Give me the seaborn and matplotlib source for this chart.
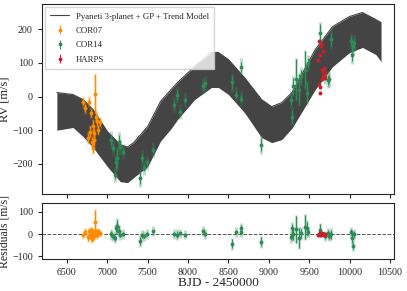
import numpy as np
import pandas as pd
import seaborn as sns
import matplotlib
matplotlib.use("Agg")
import matplotlib.pyplot as plt

# Огибающая модели (верх/низ тёмной полосы)
t_model = [6375, 6575, 6700, 6825, 7000, 7160, 7250, 7325, 7500, 7660, 7790, 7870,
           8080, 8290, 8375, 8500, 8700, 8910, 9035, 9160, 9290, 9575, 9790, 10000,
           10160, 10325, 10390]
model_up = [12, 6, -9, -39, -104, -143, -150, -137, -89, -14, 21, 42,
            89, 131, 131, 110, 56, -9, -30, -18, 13, 140, 208, 238,
            250, 229, 220]
model_lo = [-100, -92, -119, -152, -208, -253, -256, -241, -208, -132, -95, -68,
            -9, 27, 27, 6, -48, -122, -137, -128, -93, 21, 89, 131,
            146, 125, 104]

# COR07
t07 = [6700, 6725, 6760, 6775, 6790, 6800, 6810, 6820, 6825, 6830, 6840, 6850, 6860, 6875, 6890, 6910]
rv07 = [-15, -35, -122, -15, -104, -48, -134, -152, -89, -107, -128, 9, -60, -74, -98, -77]
err07 = [10, 12, 15, 10, 15, 12, 15, 15, 20, 12, 15, 57, 15, 15, 12, 12]
res07 = [-5, 10, -15, 15, -8, 18, -20, -12, 5, -10, 2, 53, 8, -3, 12, 3]
jit07 = 12

# COR14
t14 = [7040, 7075, 7090, 7110, 7125, 7140, 7160, 7200, 7410, 7425, 7450, 7490, 7560,
       7820, 7860, 7900, 7960, 8190, 8215, 8550, 8590, 8650, 8660, 8900,
       9275, 9290, 9300, 9340, 9375, 9400, 9450, 9475, 9480, 9640, 9700, 9730, 9750, 9775,
       10015, 10025, 10040, 10050]
rv14 = [-128, -152, -232, -196, -182, -134, -150, -164, -241, -182, -211, -196, -158,
        -24, 6, -45, -9, 30, 39, 42, 6, 89, -6, -143,
        -9, -60, 30, 51, 21, 60, 80, 12, 100, 190, 60, 50, 51, 170,
        164, 125, 149, 160]
err14 = [15, 10, 12, 15, 30, 20, 10, 10, 20, 12, 10, 10, 8,
         10, 15, 8, 8, 10, 8, 20, 10, 15, 10, 20,
         15, 20, 25, 60, 45, 20, 55, 30, 15, 25, 12, 15, 12, 20,
         15, 20, 15, 12]
res14 = [0, -10, -18, 26, 35, 15, -5, 0, -31, -5, -8, 0, 13,
         0, -2, 3, -2, 13, 0, -44, 9, 26, 9, -35,
         -13, 26, 0, 22, -18, 4, 31, 26, 9, 20, -9, 4, -9, 0,
         9, -18, -53, 0]
jit14 = 20

# HARPS
tH = [9612, 9620, 9625, 9630, 9635, 9640, 9645, 9650, 9655, 9660, 9665, 9670, 9675, 9680, 9690, 9700]
rvH = [110, 36, 164, 12, 125, 27, 149, 155, 80, 51, 74, 134, 60, 86, 56, 71]
errH = [3, 3, 3, 3, 3, 3, 3, 3, 3, 3, 3, 3, 3, 3, 3, 3]
resH = [-3, 2, 0, -4, 3, -1, 4, -2, 1, 3, -3, 0, 2, -1, 1, -2]
jitH = 4

sns.set_style("ticks")
plt.rcParams['font.family'] = ['Liberation Serif', 'DejaVu Serif']

fig = plt.figure(figsize=(4.07, 2.91), dpi=100)
ax = fig.add_axes([0.103, 0.333, 0.865, 0.653])
axr = fig.add_axes([0.103, 0.110, 0.865, 0.192])

dm = pd.DataFrame({'t': t_model, 'up': model_up, 'lo': model_lo})
ax.fill_between(t_model, model_up, model_lo, color='#444444', lw=0, zorder=2)
sns.lineplot(data=dm, x='t', y='up', ax=ax, color='#444444', lw=0.8, zorder=2,
             label='Pyaneti 3-planet + GP + Trend Model')

sets = [
    ('COR07', t07, rv07, err07, res07, jit07, '#ff8c00'),
    ('COR14', t14, rv14, err14, res14, jit14, '#2e8b57'),
    ('HARPS', tH, rvH, errH, resH, jitH, '#c8202a'),
]
for name, t, rv, e, res, jit, col in sets:
    e = np.array(e, dtype=float)
    etot = np.sqrt(e ** 2 + jit ** 2)
    for a, y in ((ax, rv), (axr, res)):
        a.errorbar(t, y, yerr=etot, fmt='none', ecolor=col, alpha=0.3, elinewidth=2.2, zorder=3)
        a.errorbar(t, y, yerr=e, fmt='o', color=col, ms=1.8, elinewidth=0.7, zorder=4,
                   label=name if a is ax else None)

ax.set_xlim(6190, 10550)
ax.set_ylim(-290, 275)
axr.set_xlim(6190, 10550)
axr.set_ylim(-112, 140)
axr.axhline(0, color='#555555', ls='--', lw=0.7, zorder=2)

ax.set_yticks([-200, -100, 0, 100, 200])
axr.set_yticks([-100, 0, 100])
for a in (ax, axr):
    a.set_xticks(np.arange(6500, 10501, 500))
    a.tick_params(labelsize=7.2, length=3, width=0.8)
    for s in a.spines.values():
        s.set_linewidth(0.8)
ax.set_xticklabels([])
ax.set_xlabel('')
ax.set_ylabel('RV [m/s]', fontsize=9, labelpad=1)
axr.set_ylabel('Residuals [m/s]', fontsize=8.5, labelpad=1)
axr.set_xlabel('BJD - 2450000', fontsize=9.5, labelpad=0)

ax.legend(loc='upper left', fontsize=6.3, frameon=True, borderpad=0.6, labelspacing=0.72,
          handlelength=2.2, handletextpad=0.7, borderaxespad=0.35, fancybox=False,
          edgecolor='#cccccc', framealpha=0.8)

fig.savefig('out.png', dpi=100)
